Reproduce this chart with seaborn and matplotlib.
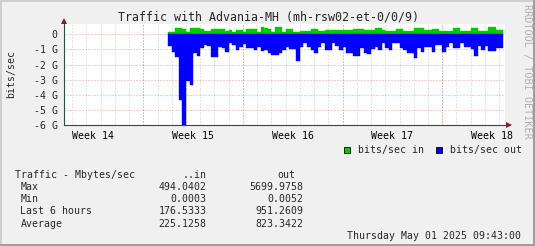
import numpy as np
import pandas as pd
import matplotlib
matplotlib.use("Agg")
import matplotlib.pyplot as plt
import seaborn as sns
from matplotlib.patches import Rectangle

# ---------------- data ----------------
start_day = 8.75          # days since start of Week 14
bin_days = 0.25           # 6-hour consolidation steps

out_gbps = [-0.77, -1.19, -1.47, -4.37, -5.98, -3.06, -3.34, -1.25, -1.41, -0.92,
            -0.70, -0.75, -1.47, -1.50, -0.85, -0.92, -1.19, -0.55, -0.70, -1.03,
            -0.85, -0.64, -0.88, -0.88, -1.03, -0.85, -1.10, -1.03, -1.25, -1.36,
            -1.36, -1.25, -1.03, -0.81, -0.99, -0.99, -1.80, -0.81, -0.55, -0.81,
            -1.03, -1.25, -0.81, -0.59, -1.03, -1.03, -0.55, -0.77, -1.03, -0.81,
            -1.25, -1.25, -1.43, -1.43, -0.92, -1.21, -1.30, -0.99, -0.81, -1.03,
            -0.59, -0.92, -1.03, -0.59, -0.59, -0.92, -1.03, -1.25, -1.25, -1.60,
            -0.92, -1.14, -0.81, -0.81, -1.14, -0.70, -0.70, -1.14, -0.81, -0.59,
            -0.92, -0.92, -0.59, -0.81, -0.81, -0.99, -1.43, -0.77, -1.03, -0.77,
            -1.08, -1.08, -0.92, -0.92]

in_gbps = [0.13, 0.13, 0.44, 0.44, 0.35, 0.13, 0.40, 0.40, 0.40, 0.33,
           0.20, 0.20, 0.35, 0.35, 0.33, 0.33, 0.22, 0.29, 0.18, 0.29,
           0.29, 0.18, 0.33, 0.33, 0.33, 0.13, 0.46, 0.40, 0.33, 0.18,
           0.46, 0.46, 0.18, 0.33, 0.33, 0.13, 0.13, 0.24, 0.24, 0.24,
           0.33, 0.33, 0.24, 0.24, 0.29, 0.29, 0.29, 0.29, 0.29, 0.29,
           0.29, 0.29, 0.33, 0.33, 0.33, 0.29, 0.29, 0.29, 0.44, 0.44,
           0.29, 0.24, 0.24, 0.24, 0.33, 0.33, 0.24, 0.24, 0.24, 0.40,
           0.40, 0.40, 0.29, 0.29, 0.35, 0.35, 0.24, 0.24, 0.24, 0.24,
           0.40, 0.40, 0.24, 0.24, 0.24, 0.40, 0.40, 0.24, 0.24, 0.24,
           0.46, 0.46, 0.29, 0.29]

week_names = ["Week 14", "Week 15", "Week 16", "Week 17", "Week 18"]
week_centers = [3.5, 10.5, 17.5, 24.5, 31.5]
week_bounds = [7, 14, 21, 28]
y_ticks = [0, -1, -2, -3, -4, -5, -6]
y_labels = ["0", "-1 G", "-2 G", "-3 G", "-4 G", "-5 G", "-6 G"]

stat_rows = ["Max", "Min", "Last 6 hours", "Average"]
stat_in = ["494.0402", "0.0003", "176.5333", "225.1258"]
stat_out = ["5699.9758", "0.0052", "951.2609", "823.3422"]

title = "Traffic with Advania-MH (mh-rsw02-et-0/0/9)"
timestamp = "Thursday May 01 2025 09:43:00"

# ---------------- styling ----------------
W, H = 535, 246
BACK = "#F0F0F0"
GREEN = "#00CC00"
BLUE = "#0000FF"
AXIS = "#2C4D43"
ARROW = "#7F1F1F"
MONO = "DejaVu Sans Mono"
FS = 7.1

sns.set_theme(style="white")
plt.rcParams["font.family"] = [MONO, "DejaVu Sans"]

def fx(px):
    return px / W

def fy(py):
    return 1 - py / H

fig = plt.figure(figsize=(W / 100, H / 100), dpi=100, facecolor=BACK)

# 3D-ish frame
fig.add_artist(Rectangle((0, 0), fx(2), 1, transform=fig.transFigure, color="#CFCFCF", lw=0))
fig.add_artist(Rectangle((0, fy(2)), 1, 2 / H, transform=fig.transFigure, color="#CFCFCF", lw=0))
fig.add_artist(Rectangle((fx(533), 0), fx(2), 1, transform=fig.transFigure, color="#9E9E9E", lw=0))
fig.add_artist(Rectangle((0, 0), 1, 2 / H, transform=fig.transFigure, color="#9E9E9E", lw=0))

ax_left, ax_right, ax_top, ax_bottom = 64, 505, 24.3, 125
ax = fig.add_axes([fx(ax_left), fy(ax_bottom), fx(ax_right - ax_left),
                   (ax_bottom - ax_top) / H])
ax.set_facecolor("white")
ax.set_axisbelow(True)

n = len(out_gbps)
t_mid = start_day + bin_days * (np.arange(n) + 0.5)
df = pd.DataFrame({
    "t": np.concatenate([t_mid, t_mid]),
    "gbps": np.concatenate([in_gbps, out_gbps]),
    "series": ["in"] * n + ["out"] * n,
})
brange = (start_day, start_day + bin_days * n)

sns.histplot(data=df[df.series == "in"], x="t", weights="gbps", binwidth=bin_days,
             binrange=brange, element="step", fill=True, color=GREEN, alpha=1,
             linewidth=0, antialiased=False, ax=ax)
sns.histplot(data=df[df.series == "out"], x="t", weights="gbps", binwidth=bin_days,
             binrange=brange, element="step", fill=True, color=BLUE, alpha=1,
             linewidth=0, antialiased=False, ax=ax)
for coll in ax.collections:
    coll.set_zorder(3)
    coll.set_edgecolor(coll.get_facecolor())
    coll.set_linewidth(0.3)

ax.set_xlim(1.43, 32.41)
ax.set_ylim(-6, 0.66)
ax.set_xlabel("")
ax.set_ylabel("")

# grid (drawn beneath the data, as rrdtool does)
ax.set_xticks(np.arange(2, 33, 1), minor=True)
ax.grid(False)
ax.grid(which="minor", axis="x", color="#8F8F8F", alpha=0.45,
        linestyle=(0, (1, 2)), linewidth=0.72)
for yv in y_ticks:
    ax.axhline(yv, color="#E05050", alpha=0.55, linestyle=(0, (1, 2)),
               linewidth=0.72, zorder=0.6)
for xv in week_bounds:
    ax.axvline(xv, color="#E05050", alpha=0.55, linestyle=(0, (1, 2)),
               linewidth=0.72, zorder=0.6)

# ticks
ax.set_xticks(week_centers)
ax.set_xticklabels(week_names)
ax.set_yticks(y_ticks)
ax.set_yticklabels(y_labels)
ax.tick_params(axis="x", which="major", length=0, pad=4.2, labelsize=FS, colors="black")
ax.tick_params(axis="x", which="minor", length=2, width=0.7, color="#8F8F8F", direction="out")
ax.tick_params(axis="y", which="major", length=2, width=0.7, color="#8F8F8F",
               direction="out", pad=2.5, labelsize=FS)
for tk, loc in zip(ax.xaxis.get_minor_ticks(), ax.xaxis.get_minorticklocs()):
    if loc in week_bounds:
        tk.tick1line.set_color("#E05050")

for s in ["top", "right"]:
    ax.spines[s].set_visible(False)
for s in ["left", "bottom"]:
    ax.spines[s].set_color(AXIS)
    ax.spines[s].set_linewidth(0.8)
    ax.spines[s].set_zorder(6)

# arrows
ax.plot([1.0, 1.006], [0, 0], transform=ax.transAxes, color=AXIS, lw=0.8, clip_on=False)
ax.plot([1.009], [0], marker=">", markersize=4, color=ARROW, transform=ax.transAxes,
        clip_on=False, markeredgewidth=0)
ax.plot([0], [1.03], marker="^", markersize=4, color=ARROW, transform=ax.transAxes,
        clip_on=False, markeredgewidth=0)

# texts
fig.text(fx(268.5), fy(16.7), title, ha="center", va="center", fontsize=8.4, family=MONO)
fig.text(fx(11), fy(74), "bits/sec", rotation=90, ha="center", va="center",
         fontsize=FS, family=MONO)
fig.text(fx(527), fy(71), "RRDTOOL / TOBI OETIKER", rotation=270, ha="center",
         va="center", fontsize=7.3, family=MONO, color="#B0B0B0")

# legend
for x0, col, lab in [(344, GREEN, "bits/sec in"), (436, BLUE, "bits/sec out")]:
    fig.add_artist(Rectangle((fx(x0), fy(153)), 6 / W, 6 / H, transform=fig.transFigure,
                             facecolor=col, edgecolor="black", lw=0.6))
    fig.text(fx(x0 + 13.5), fy(150), lab, ha="left", va="center", fontsize=FS, family=MONO)

# stats block
fig.text(fx(14.7), fy(174.6), "Traffic - Mbytes/sec", ha="left", va="center", fontsize=FS, family=MONO)
fig.text(fx(206.5), fy(174.6), "..in", ha="right", va="center", fontsize=FS, family=MONO)
fig.text(fx(295.6), fy(174.6), "out", ha="right", va="center", fontsize=FS, family=MONO)
row_y = [186.9, 199.2, 211.5, 223.8]
for yy, lab, vi, vo in zip(row_y, stat_rows, stat_in, stat_out):
    fig.text(fx(20.5), fy(yy), lab, ha="left", va="center", fontsize=FS, family=MONO)
    fig.text(fx(206.5), fy(yy), vi, ha="right", va="center", fontsize=FS, family=MONO)
    fig.text(fx(303.8), fy(yy), vo, ha="right", va="center", fontsize=FS, family=MONO)
fig.text(fx(521), fy(236.4), timestamp, ha="right", va="center", fontsize=FS, family=MONO)

fig.savefig("out.png", dpi=100, facecolor=BACK)
